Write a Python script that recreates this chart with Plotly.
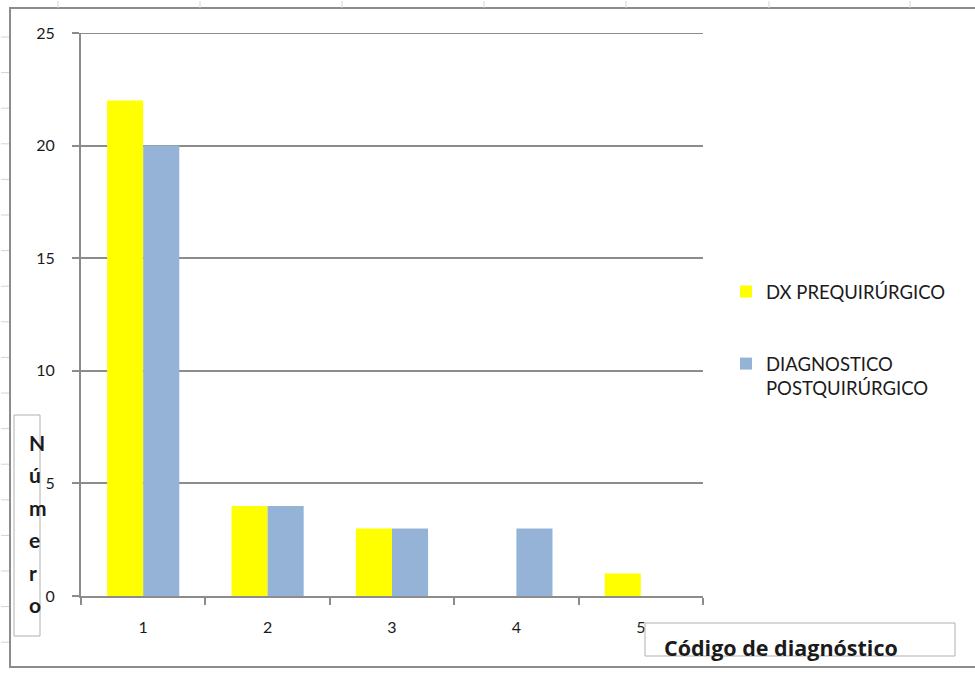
import plotly.graph_objects as go

# Diagnostic codes and counts per diagnosis stage
codigos = ["1", "2", "3", "4", "5"]
dx_prequirurgico = [22, 4, 3, 0, 1]
dx_postquirurgico = [20, 4, 3, 3, 0]
y_ticks = [0, 5, 10, 15, 20, 25]

W, H = 975, 674
L, R, T, B = 81, 703, 33, 596  # plot area in pixels

def px(x):
    return (x - L) / (R - L)

def py(y):
    return (B - y) / (B - T)

FONT = "Lato"
TITLE_FONT = "Open Sans"
TXT = "#1b1b1b"
GRID = "#8c8c8c"

fig = go.Figure()
fig.add_trace(go.Bar(
    x=codigos, y=dx_prequirurgico, name="DX PREQUIRÚRGICO",
    marker=dict(color="#FFFF00", line=dict(width=0)), legendgroup="a",
))
fig.add_trace(go.Bar(
    x=codigos, y=dx_postquirurgico, name="DIAGNOSTICO<br>POSTQUIRÚRGICO",
    marker=dict(color="#95B3D7", line=dict(width=0)), legendgroup="b",
))

shapes = []
# spreadsheet cell marks behind the chart object
for x in [58, 200, 342, 484, 626, 769, 910]:
    shapes.append(dict(type="line", xref="paper", yref="paper",
                       x0=px(x), x1=px(x), y0=py(1), y1=py(8),
                       line=dict(color="#d4d4d4", width=1)))
for k in range(18):
    y = 37 + 35.6 * k
    shapes.append(dict(type="line", xref="paper", yref="paper",
                       x0=px(1), x1=px(9), y0=py(y), y1=py(y),
                       line=dict(color="#d4d4d4", width=1)))
# chart area border
shapes.append(dict(type="rect", xref="paper", yref="paper",
                   x0=px(10), x1=px(990), y0=py(8), y1=py(667),
                   line=dict(color=GRID, width=2), fillcolor="rgba(0,0,0,0)",
                   layer="below"))
# top gridline at the upper end of the value range
shapes.append(dict(type="line", xref="paper", yref="y",
                   x0=0, x1=1, y0=y_ticks[-1], y1=y_ticks[-1],
                   line=dict(color=GRID, width=2), layer="below"))
# axis title boxes
shapes.append(dict(type="rect", xref="paper", yref="paper",
                   x0=px(14), x1=px(40), y0=py(415), y1=py(636),
                   line=dict(color="#b0b0b0", width=1)))
shapes.append(dict(type="rect", xref="paper", yref="paper",
                   x0=px(645), x1=px(955), y0=py(623), y1=py(656),
                   line=dict(color="#b0b0b0", width=1)))

annotations = []
for letter, yy in zip("Número", [442, 474, 507, 539, 572, 604]):
    annotations.append(dict(text=f"<b>{letter}</b>", xref="paper", yref="paper",
                            x=px(27), y=py(yy), xanchor="left", yanchor="middle",
                            showarrow=False, font=dict(family=FONT, size=21, color=TXT)))
annotations.append(dict(text="<b>Código de diagnóstico</b>", xref="paper", yref="paper",
                        x=px(662), y=py(647), xanchor="left", yanchor="middle",
                        showarrow=False, font=dict(family=TITLE_FONT, size=21.5, color=TXT)))

fig.update_layout(
    width=W, height=H,
    margin=dict(l=L, r=W - R, t=T, b=H - B, pad=0),
    paper_bgcolor="white", plot_bgcolor="white",
    barmode="group", bargap=0.42, bargroupgap=0,
    font=dict(family=FONT, color=TXT),
    showlegend=True,
    legend=dict(x=px(726), y=py(273), xanchor="left", yanchor="top",
                font=dict(family=FONT, size=18.5, color=TXT),
                tracegroupgap=45, valign="top", traceorder="grouped",
                bgcolor="rgba(0,0,0,0)"),
    shapes=shapes,
    annotations=annotations,
    xaxis=dict(type="category", showgrid=False, showline=True,
               linecolor=GRID, linewidth=2, ticks="outside",
               tickson="boundaries", ticklen=7, tickcolor=GRID, tickwidth=2,
               tickfont=dict(family=FONT, size=16, color=TXT),
               ticklabelstandoff=16, zeroline=False),
    yaxis=dict(range=[0, 25], tickvals=y_ticks, showgrid=True,
               gridcolor=GRID, gridwidth=2, showline=True,
               linecolor=GRID, linewidth=2, ticks="outside", ticklen=7,
               tickcolor=GRID, tickwidth=2,
               tickfont=dict(family=FONT, size=16, color=TXT),
               ticklabelstandoff=14, zeroline=False),
)

fig.write_html("out.html")
